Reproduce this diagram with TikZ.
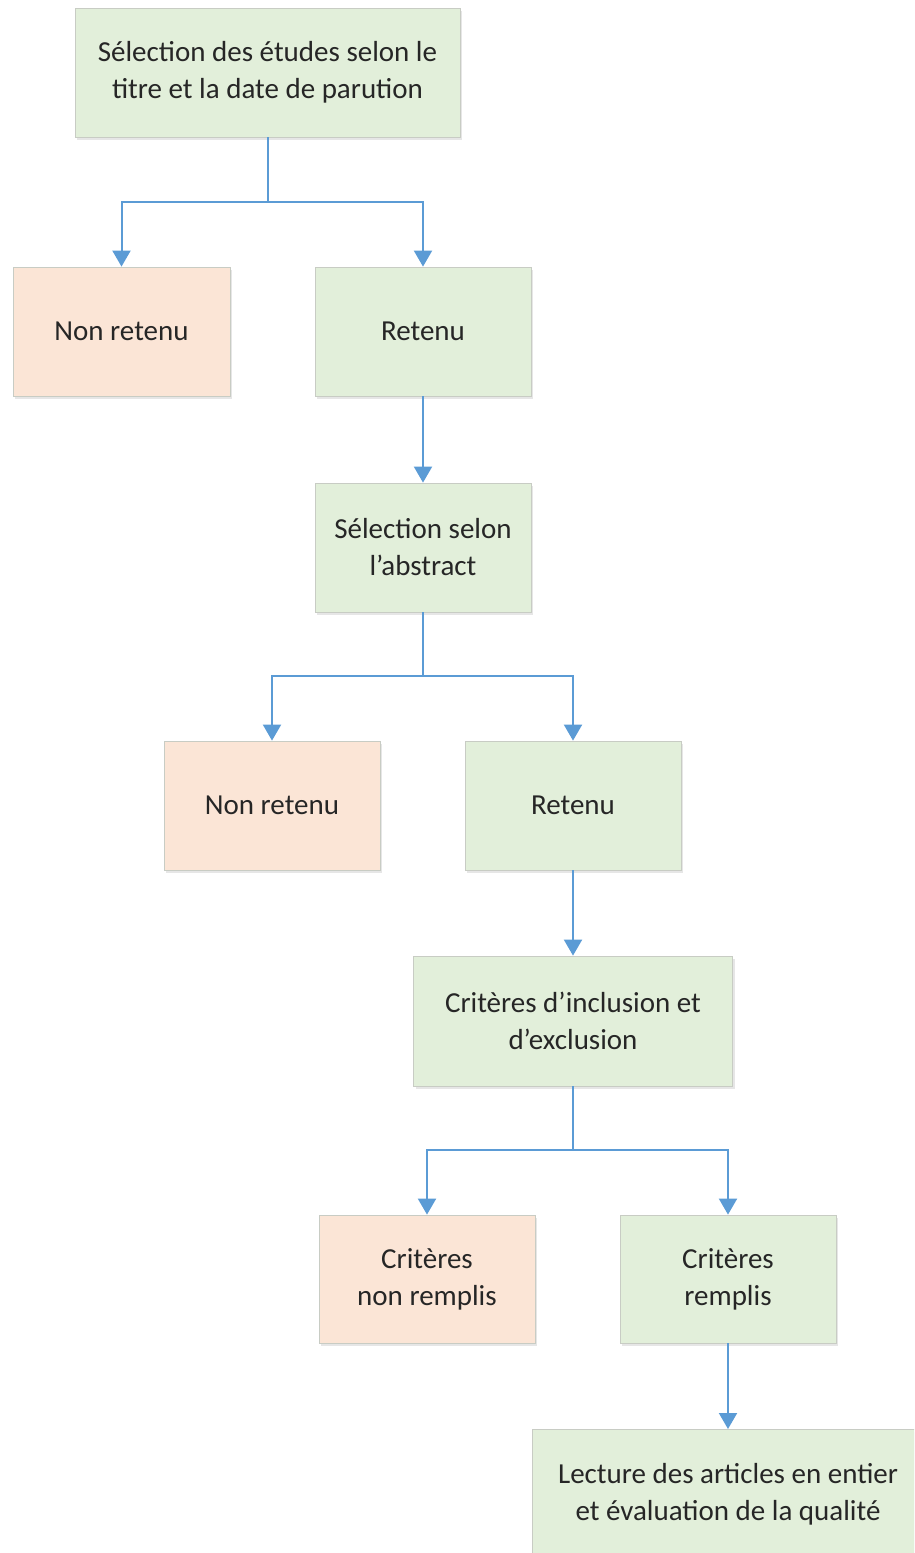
\documentclass[tikz,border=0pt]{standalone}
\usepackage{fontspec}
\setmainfont{Carlito}
\usetikzlibrary{arrows.meta,shadows}
\definecolor{gfill}{HTML}{E2EFDA}
\definecolor{ofill}{HTML}{FBE5D6}
\definecolor{bord}{HTML}{C8CCC4}
\definecolor{arr}{HTML}{5B9BD5}
\definecolor{txt}{HTML}{262626}
\tikzset{
  box/.style={draw=bord, line width=0.8pt, align=center, text=txt,
    font=\fontsize{29}{37}\selectfont, inner sep=0pt,
    drop shadow={opacity=0.2, shadow xshift=2pt, shadow yshift=-3pt}},
  gbox/.style={box, fill=gfill},
  obox/.style={box, fill=ofill},
  con/.style={draw=arr, line width=2pt, -{Triangle[width=18pt,length=16pt]}},
  seg/.style={draw=arr, line width=2pt}
}
\begin{document}
\begin{tikzpicture}[x=1pt,y=-1pt]
\useasboundingbox (0,0) rectangle (914,1553);
\clip (0,0) rectangle (914,1553);
\node[gbox, minimum width=385pt, minimum height=129pt] (a) at (267.5,72.5) {Sélection des études selon le\\titre et la date de parution};
\node[obox, minimum width=217pt, minimum height=129pt] (n1) at (121.5,331.5) {Non retenu};
\node[gbox, minimum width=216pt, minimum height=129pt] (r1) at (423,331.5) {Retenu};
\node[gbox, minimum width=216pt, minimum height=129pt] (b) at (423,547.5) {Sélection selon\\l’abstract};
\node[obox, minimum width=216pt, minimum height=129pt] (n2) at (272,805.5) {Non retenu};
\node[gbox, minimum width=216pt, minimum height=129pt] (r2) at (573,805.5) {Retenu};
\node[gbox, minimum width=319pt, minimum height=130pt] (c) at (573,1021) {Critères d’inclusion et\\d’exclusion};
\node[obox, minimum width=216pt, minimum height=128pt] (n3) at (427,1279) {Critères\\non remplis};
\node[gbox, minimum width=216pt, minimum height=128pt] (r3) at (728,1279) {Critères\\remplis};
\node[gbox, minimum width=392pt, minimum height=130pt, anchor=north] (d) at (728,1429) {Lecture des articles en entier\\et évaluation de la qualité};
\coordinate (s1) at (a.south |- 0,202);
\coordinate (s2) at (b.south |- 0,676);
\coordinate (s3) at (c.south |- 0,1150);
\draw[seg] (a.south) -- (s1);
\draw[con] (s1) -| (n1.north);
\draw[con] (s1) -| (r1.north);
\draw[con] (r1.south) -- (b.north);
\draw[seg] (b.south) -- (s2);
\draw[con] (s2) -| (n2.north);
\draw[con] (s2) -| (r2.north);
\draw[con] (r2.south) -- (c.north);
\draw[seg] (c.south) -- (s3);
\draw[con] (s3) -| (n3.north);
\draw[con] (s3) -| (r3.north);
\draw[con] (r3.south) -- (d.north);
\end{tikzpicture}
\end{document}
